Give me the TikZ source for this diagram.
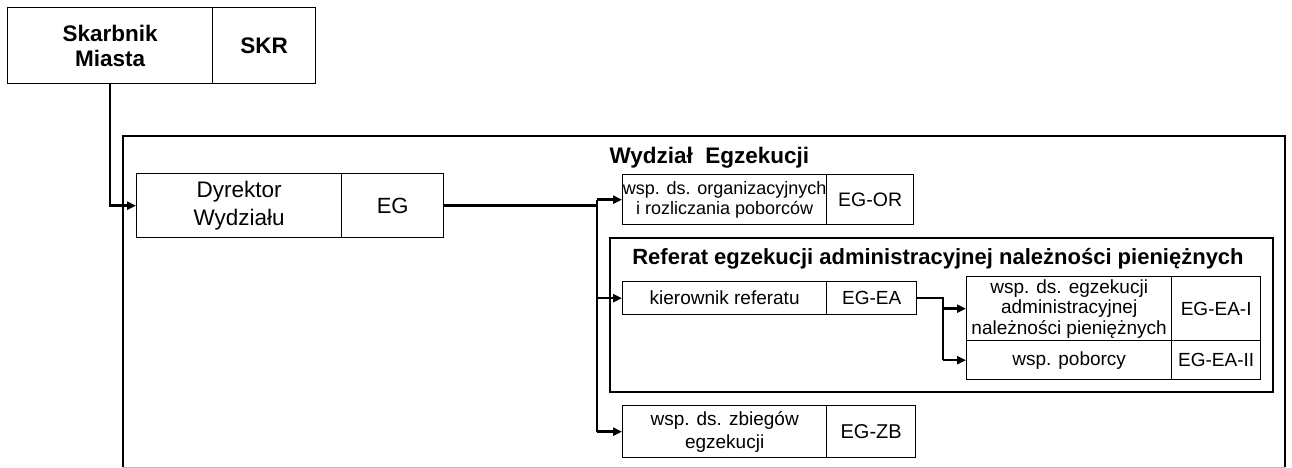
\documentclass[tikz,border=0pt]{standalone}
\usepackage{fontspec}
\setmainfont{Liberation Sans}
\usetikzlibrary{arrows.meta,calc}
\newcommand\fsz[2]{\fontsize{#1pt}{#2pt}\selectfont}
\tikzset{
  cell/.style={draw, line width=1.3pt, inner sep=0pt, align=center, anchor=north west},
  conn/.style={line width=2.4pt},
  arr/.style={line width=2.4pt, -{Triangle[length=9pt,width=8pt]}},
  frame/.style={line width=1.7pt},
}
\begin{document}
\begin{tikzpicture}[x=1pt,y=-1pt]
\useasboundingbox (0,0) rectangle (1292,468);
% outer department frame
\draw[frame] (123,467) -- (123,136) -- (1285,136) -- (1285,467);
\draw[line width=1pt, black!25] (123,467) -- (1285,467);
\node[anchor=west, font=\fsz{22.5}{24}\bfseries] (wyd) at (606,158) {Wydział\ \ Egzekucji};
% Skarbnik
\node[cell, minimum width=205pt, minimum height=76pt, font=\fsz{22.5}{25}\bfseries] (sk) at (7,7) {Skarbnik\\Miasta};
\node[cell, minimum width=103pt, minimum height=76pt, font=\fsz{22.5}{25}\bfseries] (skr) at (212,7) {SKR};
% Dyrektor
\node[cell, minimum width=205pt, minimum height=64pt, font=\fsz{22.5}{28}] (dyr) at (136,173) {Dyrektor\\Wydziału};
\node[cell, minimum width=102pt, minimum height=64pt, font=\fsz{22}{24}] (eg) at (341,173) {EG};
% EG-OR
\node[cell, minimum width=204pt, minimum height=50pt, font=\fsz{18}{20.5}] (wor) at (622,174) {wsp. ds. organizacyjnych\\i rozliczania poborców};
\node[cell, minimum width=87pt, minimum height=50pt, font=\fsz{19.5}{21}] (eor) at (826,174) {EG-OR};
% Referat frame
\draw[line width=1.4pt] (610,238) rectangle (1273,392);
\node[font=\fsz{22}{24}\bfseries] (ref) at (938,259) {Referat egzekucji administracyjnej należności pieniężnych};
% kierownik
\node[cell, minimum width=204pt, minimum height=33pt, font=\fsz{19}{21}] (kier) at (622,281) {kierownik referatu};
\node[cell, minimum width=90pt, minimum height=33pt, font=\fsz{19}{21}] (eea) at (826,281) {EG-EA};
% stacked
\node[cell, minimum width=205pt, minimum height=64pt, font=\fsz{19}{20.5}] (wea) at (966,276) {wsp. ds. egzekucji\\administracyjnej\\należności pieniężnych};
\node[cell, minimum width=89pt, minimum height=64pt, font=\fsz{19}{21}] (eeai) at (1171,276) {EG-EA-I};
\node[cell, minimum width=205pt, minimum height=39pt, font=\fsz{19}{21}] (wpo) at (966,340) {wsp. poborcy};
\node[cell, minimum width=89pt, minimum height=39pt, font=\fsz{19}{21}] (eeaii) at (1171,340) {EG-EA-II};
% zbiegow
\node[cell, minimum width=204pt, minimum height=52pt, font=\fsz{19}{23}] (wzb) at (622,405) {wsp. ds. zbiegów\\egzekucji};
\node[cell, minimum width=89pt, minimum height=52pt, font=\fsz{20}{21}] (ezb) at (826,405) {EG-ZB};
% connectors
\coordinate (bx) at (597,0);
\coordinate (cx) at (943,0);
\draw[arr] (sk.south) |- (dyr.west);
\draw[conn] (eg.east) -- (eg.east -| bx);
\draw[conn] (wor.west -| bx) -- (wzb.west -| bx);
\draw[arr] (wor.west -| bx) -- (wor.west);
\draw[arr] (kier.west -| bx) -- (kier.west);
\draw[arr] (wzb.west -| bx) -- (wzb.west);
\draw[conn] (eea.east) -- (eea.east -| cx) -- (wpo.west -| cx);
\draw[arr] (wea.west -| cx) -- (wea.west);
\draw[arr] (wpo.west -| cx) -- (wpo.west);
\end{tikzpicture}
\end{document}
